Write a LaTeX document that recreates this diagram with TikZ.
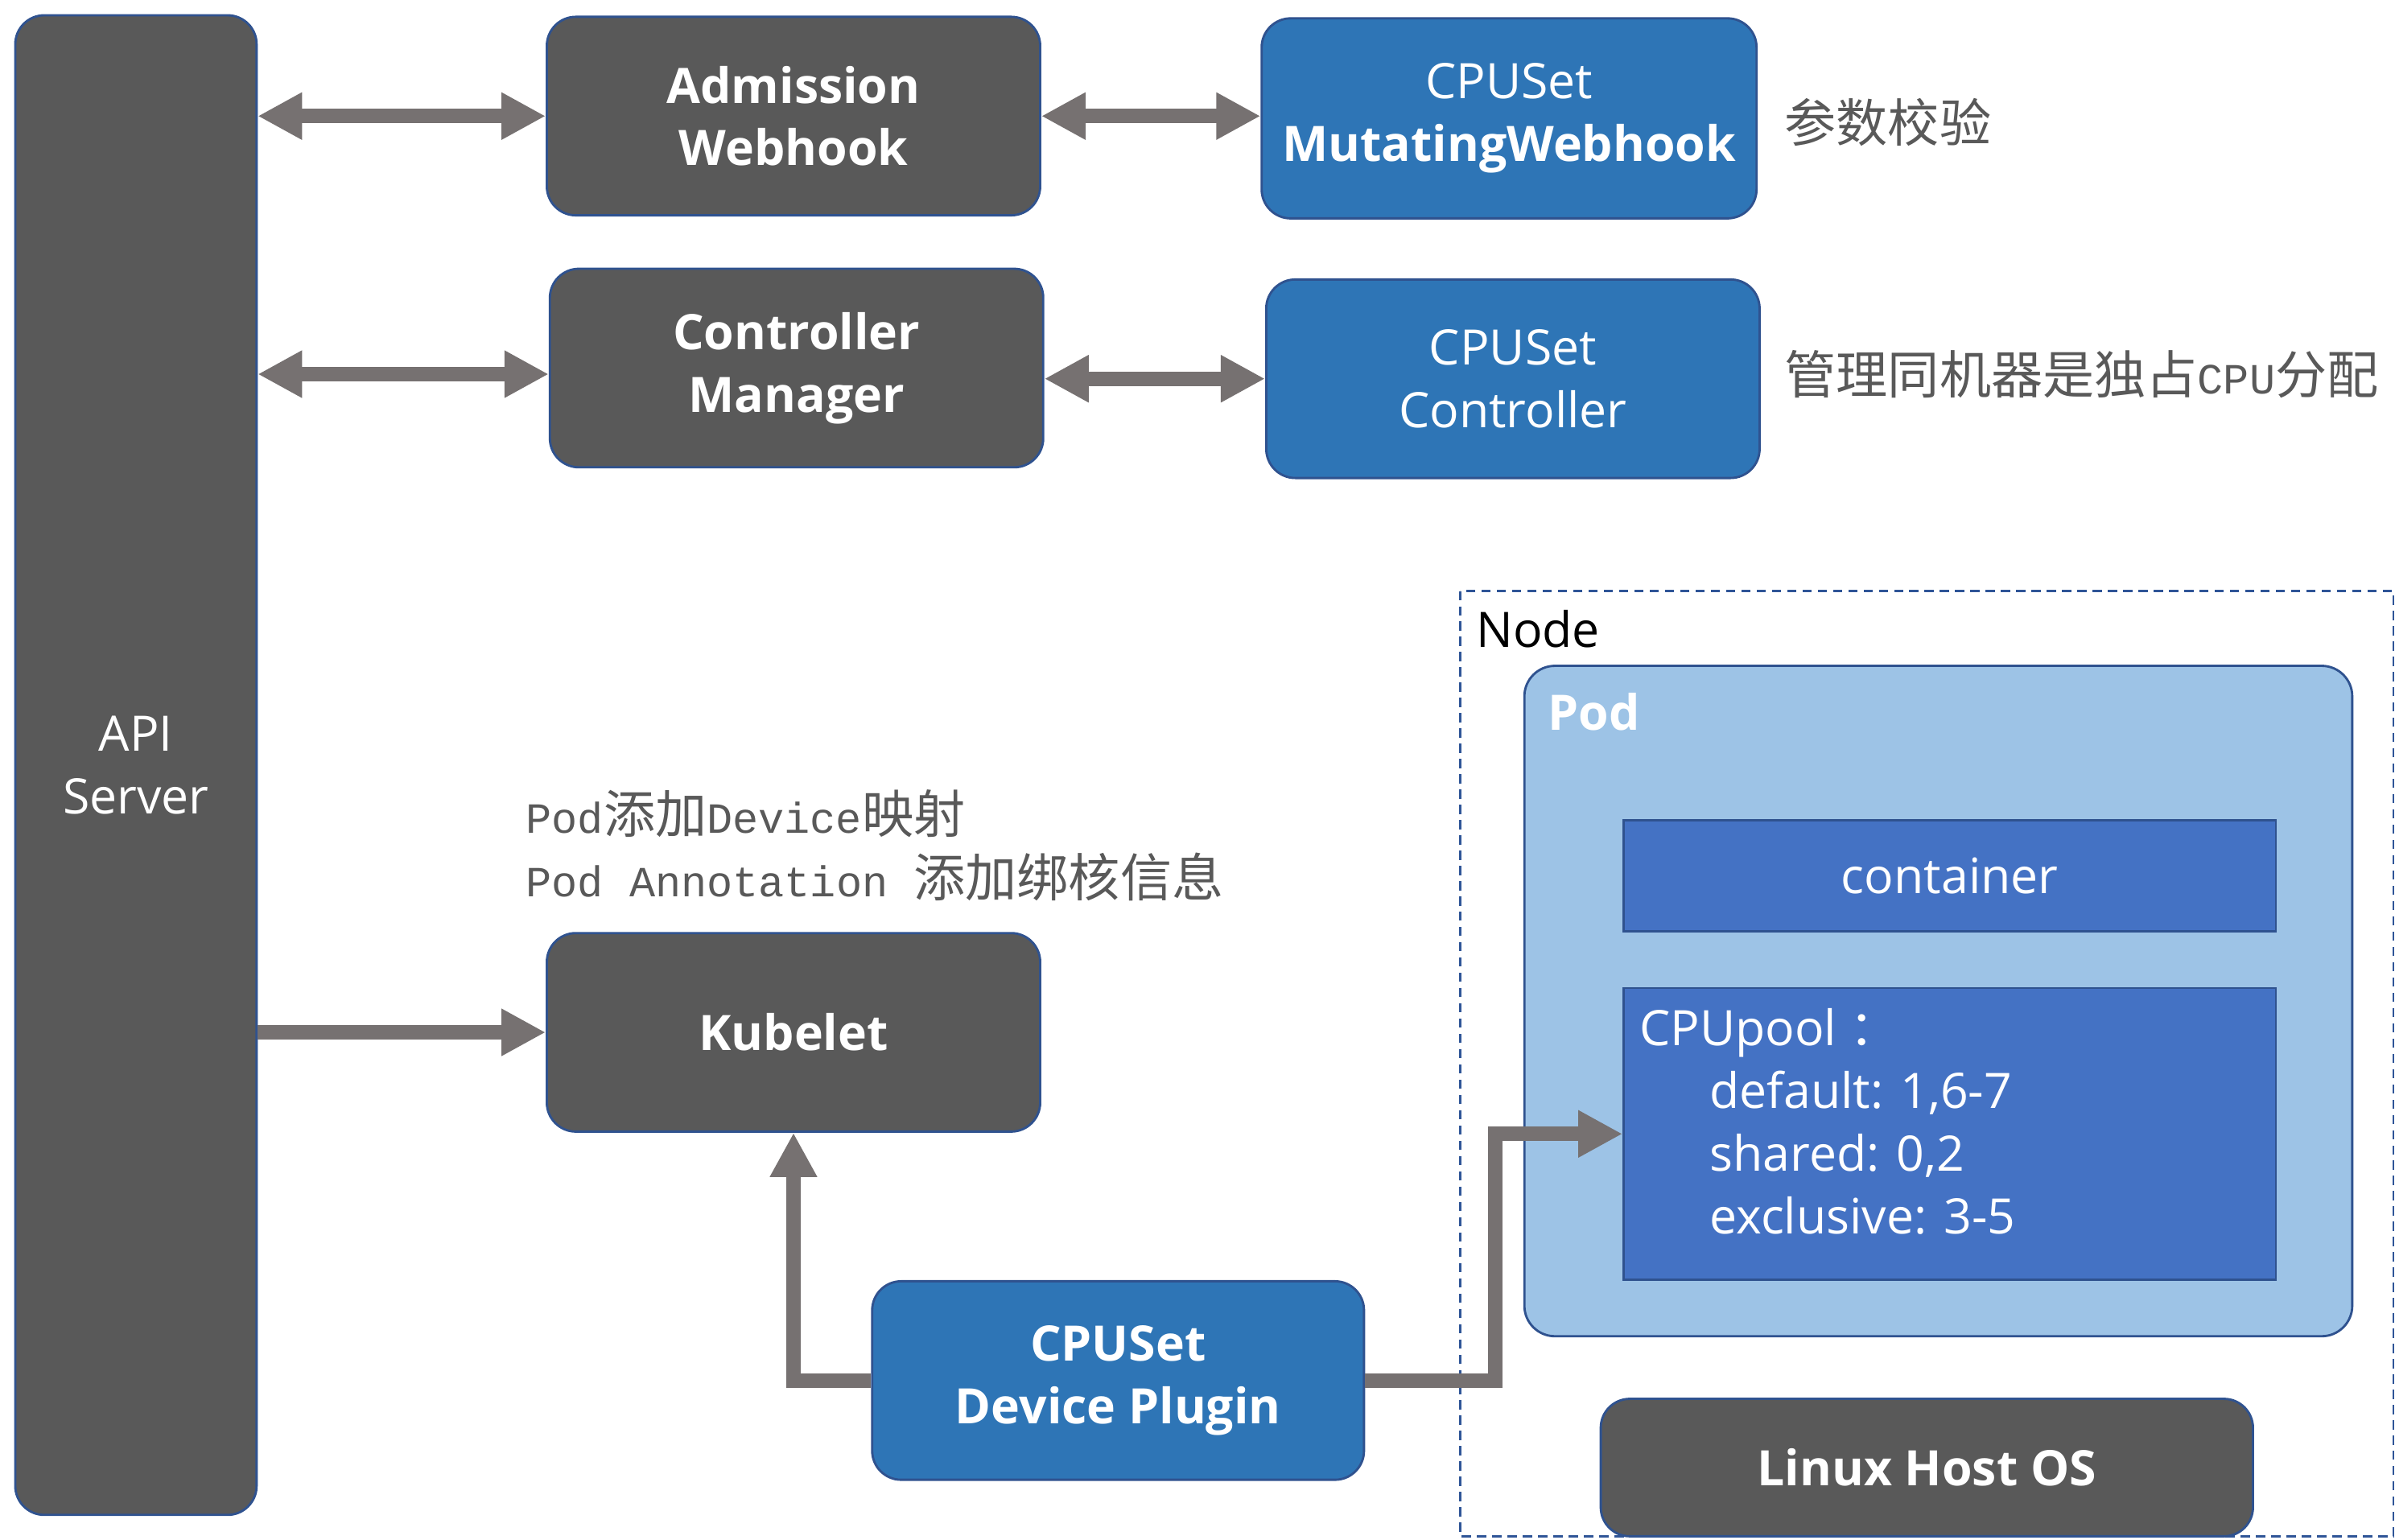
\documentclass[tikz,border=0pt]{standalone}
\usepackage{fontspec}
\setmainfont{Open Sans}
\newfontfamily\cjk{Noto Sans CJK SC}
\newfontfamily\monof{Liberation Mono}
\usetikzlibrary{arrows.meta}
\definecolor{darkfill}{HTML}{595959}
\definecolor{edgeblue}{HTML}{2F528F}
\definecolor{midblue}{HTML}{2E75B6}
\definecolor{lightblue}{HTML}{9DC3E6}
\definecolor{boxblue}{HTML}{4472C4}
\definecolor{arrowgray}{HTML}{767171}
\definecolor{labelgray}{HTML}{595959}
\definecolor{dashblue}{HTML}{2F5597}
\tikzset{
  base/.style={draw=edgeblue, line width=0.75pt, text=white, align=center, inner sep=0pt,
    font=\fontsize{16}{20.5}\selectfont},
  darkbox/.style={base, fill=darkfill, rounded corners=9.5pt},
  bluebox/.style={base, fill=midblue, rounded corners=9.5pt},
  podbox/.style={base, fill=lightblue, rounded corners=10pt},
  innerbox/.style={base, fill=boxblue},
  conn/.style={draw=arrowgray, line width=4.75pt, line join=miter},
  onetip/.style={conn, -{Triangle[length=14.5pt,width=14.5pt]}},
  twotip/.style={conn, {Triangle[length=14.5pt,width=14.5pt]}-{Triangle[length=14.5pt,width=14.5pt]}},
  note/.style={anchor=west, inner sep=0pt, text=labelgray, font=\cjk\fontsize{16.9}{20.5}\selectfont},
}
\newcommand{\mlat}[1]{{\monof\fontsize{14.1}{20.5}\selectfont #1}}
\begin{document}
\begin{tikzpicture}[x=0.5pt,y=-0.5pt]
\useasboundingbox (0,0) rectangle (1568,1008);
% Node region
\draw[dashblue, line width=0.6pt, dash pattern=on 3pt off 2pt] (956,387) rectangle (1567,1006);
\node[anchor=west, inner sep=0pt, font=\fontsize{16}{20}\selectfont] (nodelbl) at (966,412) {Node};

\node[darkbox, minimum width=79pt, minimum height=491pt] (api) at (89,501) {API\\Server};
\node[darkbox, minimum width=161.5pt, minimum height=65pt] (adm) at (519.5,76) {\bfseries Admission\\\bfseries Webhook};
\node[darkbox, minimum width=161.5pt, minimum height=65pt] (cm) at (521.5,241) {\bfseries Controller\\\bfseries Manager};
\node[bluebox, minimum width=162pt, minimum height=65.5pt] (mut) at (988,77.5) {CPUSet\\\bfseries MutatingWebhook};
\node[bluebox, minimum width=161.5pt, minimum height=65pt] (ctl) at (990.5,248) {CPUSet\\Controller};
\node[darkbox, minimum width=161.5pt, minimum height=65pt] (kub) at (519.5,676) {\bfseries Kubelet};
\node[bluebox, minimum width=161pt, minimum height=65pt] (dev) at (732,904) {\bfseries CPUSet\\\bfseries Device Plugin};

\node[podbox, minimum width=271pt, minimum height=219.5pt] (pod) at (1269,655.5) {};
\node[anchor=west, inner sep=0pt, text=white, font=\bfseries\fontsize{16}{20}\selectfont] (podlbl) at (1013,466) {Pod};
\node[innerbox, minimum width=213.5pt, minimum height=36.5pt] (cont) at (1276.5,573.5) {container};
\node[innerbox, minimum width=213.5pt, minimum height=95.5pt] (pool) at (1276.5,742.5) {};
\node[anchor=north west, inner sep=0pt, align=left, text=white, font=\fontsize{16}{20.5}\selectfont] (pooltxt) at (1073,660)
  {CPUpool {\cjk ：}\\\hspace{23pt}default: 1,6-7\\\hspace{23pt}shared: 0,2\\\hspace{23pt}exclusive: 3-5};
\node[darkbox, minimum width=213.5pt, minimum height=45pt] (linux) at (1261.5,961) {\bfseries Linux Host OS};

% notes
\node[note] (n1) at (1168,80) {参数校验};
\node[note] (n2) at (1168,245) {管理同机器是独占\mlat{CPU}分配};
\node[note] (n3) at (344,533) {\mlat{Pod}添加\mlat{Device}映射};
\node[note] (n4) at (344,574) {\mlat{Pod Annotation }添加绑核信息};

% connectors
\draw[twotip] (api.east |- adm.west) -- (adm.west);
\draw[twotip] (adm.east) -- (mut.west |- adm.east);
\draw[twotip] ([yshift=-2pt]api.east |- cm.west) -- ([yshift=-2pt]cm.west);
\draw[twotip] (cm.east |- ctl.west) -- (ctl.west);
\draw[onetip] (api.east |- kub.west) -- (kub.west);
\draw[onetip] (dev.west) -| (kub.south);
\draw[onetip] (dev.east) -- ++(85,0) |- (pool.west);
\end{tikzpicture}
\end{document}
